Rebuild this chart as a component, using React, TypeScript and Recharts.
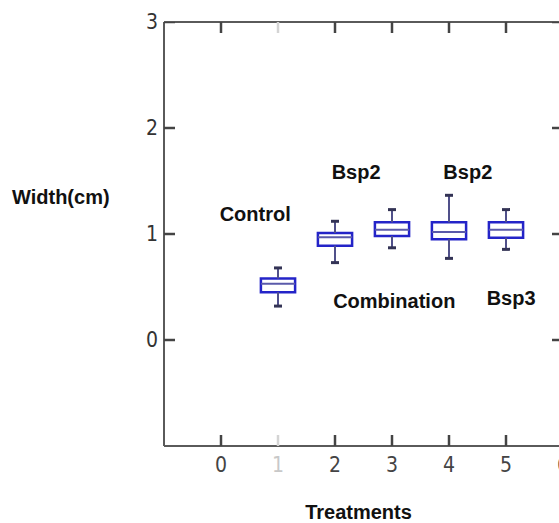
import React from "react";
import {
  ComposedChart,
  XAxis,
  YAxis,
  Scatter,
  ReferenceArea,
  ReferenceLine,
  ReferenceDot,
  Label,
} from "recharts";

// box plot summary per treatment
const treatments = [1, 2, 3, 4, 5];
const whiskerLow = [0.32, 0.73, 0.87, 0.77, 0.855];
const q1 = [0.45, 0.89, 0.98, 0.95, 0.965];
const median = [0.53, 0.97, 1.04, 1.02, 1.04];
const q3 = [0.58, 1.01, 1.11, 1.11, 1.11];
const whiskerHigh = [0.68, 1.12, 1.23, 1.365, 1.23];

const xTicks = [0, 1, 2, 3, 4, 5, 6];
const yTicks = [0, 1, 2, 3];
const X_MIN = -1;
const X_MAX = 6;
const Y_MIN = -1;
const Y_MAX = 3;

// text labels placed in data coordinates
const annotations = [
  { text: "Control", x: 0.6, y: 1.19 },
  { text: "Bsp2", x: 2.37, y: 1.59 },
  { text: "Bsp2", x: 4.33, y: 1.59 },
  { text: "Combination", x: 3.04, y: 0.37 },
  { text: "Bsp3", x: 5.09, y: 0.4 },
];

const HALF = 0.3;
const BOX = "#2424c8";
const WHISKER = "#50508a";
const AXIS = "#5a5a5a";
const TICK_LEN = 11;
const TICK_FONT = "'Liberation Sans Narrow', 'DejaVu Sans Condensed', sans-serif";
const LABEL_FONT = "'Liberation Sans', Arial, sans-serif";

const caps = treatments.flatMap((t, i) => [
  { x: t, y: whiskerLow[i] },
  { x: t, y: whiskerHigh[i] },
]);

// inward tick marks on the four sides of the frame
const frameTicks = [
  ...xTicks.map((t) => ({ x: t, y: Y_MIN, side: "b" })),
  ...xTicks.map((t) => ({ x: t, y: Y_MAX, side: "t" })),
  ...yTicks.map((v) => ({ x: X_MIN, y: v, side: "l" })),
  ...yTicks.map((v) => ({ x: X_MAX, y: v, side: "r" })),
];

const Cap = (props: any) => {
  const { cx, cy } = props;
  return (
    <line x1={cx - 4} x2={cx + 4} y1={cy} y2={cy} stroke="#333355" strokeWidth={3} />
  );
};

const FrameTick = (props: any) => {
  const { cx, cy, payload } = props;
  const side = payload.side;
  const faint = payload.x === 1 && (side === "b" || side === "t");
  const color = faint ? "#d4d4d4" : "#444";
  let x2 = cx;
  let y2 = cy;
  if (side === "b") y2 = cy - TICK_LEN;
  if (side === "t") y2 = cy + TICK_LEN;
  if (side === "l") x2 = cx + TICK_LEN;
  if (side === "r") x2 = cx - TICK_LEN;
  return <line x1={cx} y1={cy} x2={x2} y2={y2} stroke={color} strokeWidth={2.5} />;
};

const BottomTick = (props: any) => {
  const { x, y, payload } = props;
  const faint = payload.value === 1;
  return (
    <text
      x={x}
      y={y}
      dy="0.71em"
      textAnchor="middle"
      fontFamily={TICK_FONT}
      fontSize={21}
      fill={faint ? "#c8c8c8" : "#444"}
    >
      {payload.value}
    </text>
  );
};

const App = () => {
  return (
    <div
      style={{
        position: "absolute",
        left: 0,
        top: 0,
        width: 559,
        height: 523,
        overflow: "hidden",
        background: "#fff",
      }}
    >
      <ComposedChart
        width={580}
        height={523}
        margin={{ top: 21, right: 16, bottom: 0, left: 0 }}
      >
        <XAxis
          xAxisId="bottom"
          type="number"
          dataKey="x"
          domain={[X_MIN, X_MAX]}
          ticks={xTicks}
          orientation="bottom"
          height={77}
          tickSize={0}
          tickMargin={11}
          tickLine={false}
          stroke={AXIS}
          strokeWidth={2}
          tick={<BottomTick />}
          allowDataOverflow
        >
          <Label
            value="Treatments"
            position="insideBottom"
            offset={4}
            dx={-5}
            fontFamily={LABEL_FONT}
            fontWeight="bold"
            fontSize={20}
            fill="#111"
          />
        </XAxis>
        <XAxis
          xAxisId="top"
          type="number"
          domain={[X_MIN, X_MAX]}
          orientation="top"
          height={1}
          tick={false}
          tickLine={false}
          stroke={AXIS}
          strokeWidth={2}
          allowDataOverflow
        />
        <YAxis
          yAxisId="left"
          type="number"
          dataKey="y"
          domain={[Y_MIN, Y_MAX]}
          ticks={yTicks}
          width={164}
          tickSize={0}
          tickMargin={6}
          tickLine={false}
          stroke={AXIS}
          strokeWidth={2}
          tick={{ fontFamily: TICK_FONT, fontSize: 21, fill: "#333" }}
          allowDataOverflow
        >
          <Label
            value="Width(cm)"
            position="insideLeft"
            offset={12}
            dy={-37}
            fontFamily={LABEL_FONT}
            fontWeight="bold"
            fontSize={20}
            fill="#111"
          />
        </YAxis>
        <YAxis
          yAxisId="right"
          type="number"
          domain={[Y_MIN, Y_MAX]}
          orientation="right"
          width={1}
          tick={false}
          tickLine={false}
          stroke={AXIS}
          strokeWidth={2}
          allowDataOverflow
        />

        {treatments.map((t, i) => (
          <ReferenceLine
            key={`wl-${t}`}
            xAxisId="bottom"
            yAxisId="left"
            segment={[
              { x: t, y: whiskerLow[i] },
              { x: t, y: q1[i] },
            ]}
            stroke={WHISKER}
            strokeWidth={2}
          />
        ))}
        {treatments.map((t, i) => (
          <ReferenceLine
            key={`wh-${t}`}
            xAxisId="bottom"
            yAxisId="left"
            segment={[
              { x: t, y: q3[i] },
              { x: t, y: whiskerHigh[i] },
            ]}
            stroke={WHISKER}
            strokeWidth={2}
          />
        ))}
        {treatments.map((t, i) => (
          <ReferenceArea
            key={`box-${t}`}
            xAxisId="bottom"
            yAxisId="left"
            x1={t - HALF}
            x2={t + HALF}
            y1={q1[i]}
            y2={q3[i]}
            fill="none"
            fillOpacity={0}
            stroke={BOX}
            strokeWidth={2.5}
            strokeOpacity={1}
          />
        ))}
        {treatments.map((t, i) => (
          <ReferenceLine
            key={`med-${t}`}
            xAxisId="bottom"
            yAxisId="left"
            segment={[
              { x: t - HALF, y: median[i] },
              { x: t + HALF, y: median[i] },
            ]}
            stroke="#5a5aaa"
            strokeWidth={2}
          />
        ))}

        <Scatter
          xAxisId="bottom"
          yAxisId="left"
          data={caps}
          shape={<Cap />}
          isAnimationActive={false}
        />
        <Scatter
          xAxisId="bottom"
          yAxisId="left"
          data={frameTicks}
          shape={<FrameTick />}
          isAnimationActive={false}
        />

        {annotations.map((a, i) => (
          <ReferenceDot
            key={`ann-${i}`}
            xAxisId="bottom"
            yAxisId="left"
            x={a.x}
            y={a.y}
            r={0}
            fill="none"
            stroke="none"
            label={{
              value: a.text,
              position: "center",
              fontFamily: LABEL_FONT,
              fontWeight: "bold",
              fontSize: 20,
              fill: "#111",
            }}
          />
        ))}
      </ComposedChart>
    </div>
  );
};

export default App;
